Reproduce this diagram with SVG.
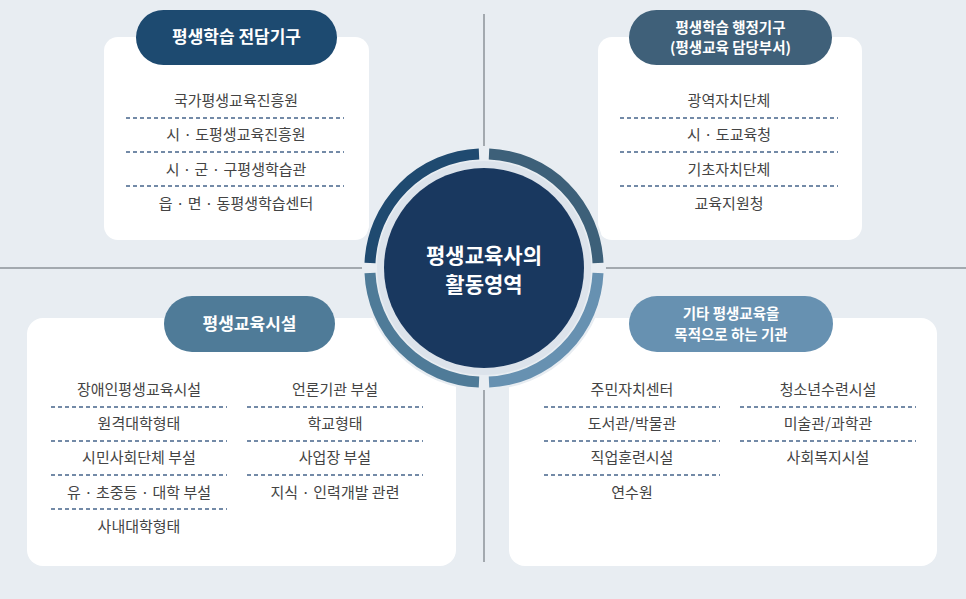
<svg xmlns="http://www.w3.org/2000/svg" width="966" height="599" viewBox="0 0 966 599">
<style>
.t{font-family:"Noto Sans CJK KR","Noto Sans",sans-serif;font-size:15px;fill:#444;text-anchor:middle}
.h{font-family:"Noto Sans CJK KR","Noto Sans",sans-serif;font-size:17px;font-weight:bold;fill:#fff;text-anchor:middle}
.h2{font-family:"Noto Sans CJK KR","Noto Sans",sans-serif;font-size:14.5px;font-weight:bold;fill:#fff;text-anchor:middle}
.d{stroke:#45648a;stroke-width:1.3;stroke-dasharray:4 3;fill:none}
.card{fill:#fff}
.arc{fill:none;stroke-width:11}
</style>
<rect width="966" height="599" fill="#e8edf2"/>
<g id="axes" stroke="#8d9299" stroke-width="1.5">
<line x1="484" y1="14" x2="484" y2="562"/>
<line x1="0" y1="268" x2="966" y2="268"/>
</g>
<g id="node-tl">
<rect class="card" x="104" y="37" width="265" height="203" rx="14"/>
<rect x="136" y="10" width="201" height="55" rx="27.5" fill="#1d4a70"/>
<text class="h" x="236.5" y="43">평생학습 전담기구</text>
<text class="t" x="236" y="106">국가평생교육진흥원</text>
<line class="d" x1="126" y1="118" x2="344" y2="118"/>
<text class="t" x="236" y="140">시 · 도평생교육진흥원</text>
<line class="d" x1="126" y1="152" x2="344" y2="152"/>
<text class="t" x="236" y="175">시 · 군 · 구평생학습관</text>
<line class="d" x1="126" y1="186" x2="344" y2="186"/>
<text class="t" x="236" y="209">읍 · 면 · 동평생학습센터</text>
</g>
<g id="node-tr">
<rect class="card" x="598" y="37" width="264" height="203" rx="14"/>
<rect x="629" y="10" width="203" height="55" rx="27.5" fill="#3f6079"/>
<text class="h2" x="730.5" y="33">평생학습 행정기구</text>
<text class="h2" x="730.5" y="53">(평생교육 담당부서)</text>
<text class="t" x="729" y="106">광역자치단체</text>
<line class="d" x1="620" y1="118" x2="838" y2="118"/>
<text class="t" x="729" y="140">시 · 도교육청</text>
<line class="d" x1="620" y1="152" x2="838" y2="152"/>
<text class="t" x="729" y="175">기초자치단체</text>
<line class="d" x1="620" y1="186" x2="838" y2="186"/>
<text class="t" x="729" y="209">교육지원청</text>
</g>
<g id="node-bl">
<rect class="card" x="27" y="318" width="429" height="248" rx="16"/>
<rect x="164" y="296" width="171" height="56" rx="28" fill="#4f7b98"/>
<text class="h" x="249.5" y="330">평생교육시설</text>
<text class="t" x="139" y="395">장애인평생교육시설</text>
<line class="d" x1="51" y1="407" x2="227" y2="407"/>
<text class="t" x="139" y="429">원격대학형태</text>
<line class="d" x1="51" y1="441" x2="227" y2="441"/>
<text class="t" x="139" y="463">시민사회단체 부설</text>
<line class="d" x1="51" y1="475" x2="227" y2="475"/>
<text class="t" x="139" y="498">유 · 초중등 · 대학 부설</text>
<line class="d" x1="51" y1="509" x2="227" y2="509"/>
<text class="t" x="139" y="532">사내대학형태</text>
<text class="t" x="335" y="395">언론기관 부설</text>
<line class="d" x1="247" y1="407" x2="423" y2="407"/>
<text class="t" x="335" y="429">학교형태</text>
<line class="d" x1="247" y1="441" x2="423" y2="441"/>
<text class="t" x="335" y="463">사업장 부설</text>
<line class="d" x1="247" y1="475" x2="423" y2="475"/>
<text class="t" x="335" y="498">지식 · 인력개발 관련</text>
</g>
<g id="node-br">
<rect class="card" x="509" y="318" width="428" height="248" rx="16"/>
<rect x="629" y="296" width="204" height="56" rx="28" fill="#6791b1"/>
<text class="h2" x="731" y="319">기타 평생교육을</text>
<text class="h2" x="731" y="340">목적으로 하는 기관</text>
<text class="t" x="632" y="395">주민자치센터</text>
<line class="d" x1="544" y1="407" x2="720" y2="407"/>
<text class="t" x="632" y="429">도서관/박물관</text>
<line class="d" x1="544" y1="441" x2="720" y2="441"/>
<text class="t" x="632" y="463">직업훈련시설</text>
<line class="d" x1="544" y1="475" x2="720" y2="475"/>
<text class="t" x="632" y="498">연수원</text>
<text class="t" x="828" y="395">청소년수련시설</text>
<line class="d" x1="740" y1="407" x2="916" y2="407"/>
<text class="t" x="828" y="429">미술관/과학관</text>
<line class="d" x1="740" y1="441" x2="916" y2="441"/>
<text class="t" x="828" y="463">사회복지시설</text>
</g>
<g id="center">
<circle cx="484" cy="268" r="122" fill="#e8edf2"/>
<path class="arc" stroke="#1f4a70" d="M370 263 A114 114 0 0 1 479 154"/>
<path class="arc" stroke="#3d6079" d="M489 154 A114 114 0 0 1 598 263"/>
<path class="arc" stroke="#4f7b98" d="M479 382 A114 114 0 0 1 370 273"/>
<path class="arc" stroke="#6791b1" d="M598 273 A114 114 0 0 1 489 382"/>
<circle cx="484" cy="268" r="107" fill="#dce3eb"/>
<circle cx="484" cy="268" r="100" fill="#19385f"/>
<text class="h" x="484" y="263" style="font-size:21px">평생교육사의</text>
<text class="h" x="484" y="292" style="font-size:21px">활동영역</text>
</g>
</svg>
